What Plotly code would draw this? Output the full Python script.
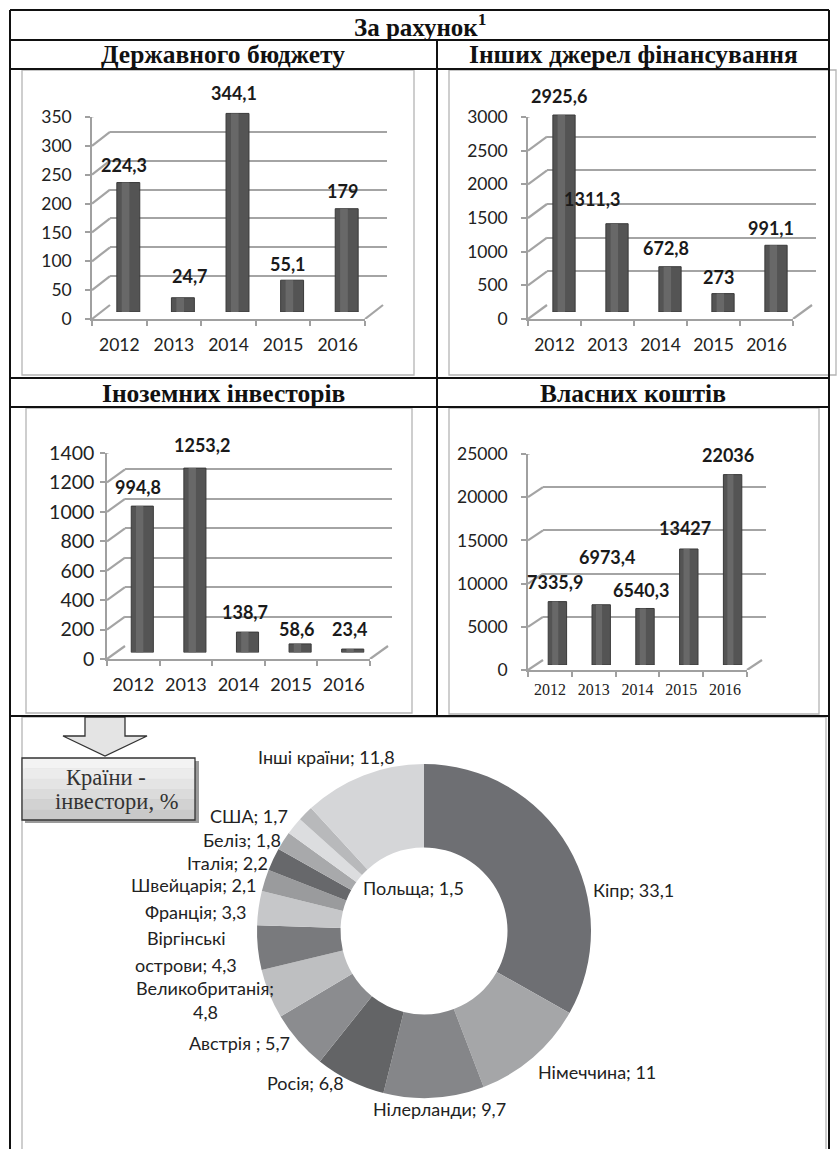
import plotly.graph_objects as go

W, H = 837, 1149

# ---------------- data ----------------
years = ["2012", "2013", "2014", "2015", "2016"]
state_budget = [224.3, 24.7, 344.1, 55.1, 179]
other_sources = [2925.6, 1311.3, 672.8, 273, 991.1]
foreign_investors = [994.8, 1253.2, 138.7, 58.6, 23.4]
own_funds = [7335.9, 6973.4, 6540.3, 13427, 22036]

main_title = "За рахунок<sup>1</sup>"
panel_titles = ["Державного бюджету", "Інших джерел фінансування",
                "Іноземних інвесторів", "Власних коштів"]

countries = ["Кіпр", "Німеччина", "Нілерланди", "Росія", "Австрія ",
             "Великобританія", "Віргінські острови", "Франція", "Швейцарія",
             "Італія", "Беліз", "США", "Польща", "Інші країни"]
shares = [33.1, 11, 9.7, 6.8, 5.7, 4.8, 4.3, 3.3, 2.1, 2.2, 1.8, 1.7, 1.5, 11.8]
callout_lines = ["Країни -", "інвестори, %"]

# ---------------- style ----------------
pie_colors = ["#6e6f73", "#a5a6a8", "#858689", "#636466", "#8b8c8f", "#bebfc1",
              "#797a7d", "#c6c7c9", "#9a9b9d", "#67686b", "#a8a9ab", "#dcdddf",
              "#b8b9bb", "#d5d6d8"]


def px(x):
    return x / W


def py(y):
    return 1 - y / H


def fmt(v):
    return f"{v:g}".replace(".", ",")


SANS = "Lato"
SERIF = "Liberation Serif"
GRID = "#a4a4a4"
AX = "#a0a0a0"

charts = [
    dict(values=state_budget, rmax=350, dtick=50, xf=92, wf=273, yf0=319, hh=202,
         dx=18, dy=-14, ystand=10, xstand=9, ysize=17.5,
         xfont=dict(family=SANS, size=17.5, color="#222"),
         shifts=[(-4, 18), (7, 22), (-4, 20), (-4, 16), (-4, 18)]),
    dict(values=other_sources, rmax=3000, dtick=500, xf=528, wf=265, yf0=319, hh=202,
         dx=19, dy=-14, ystand=10, xstand=9, ysize=17.5,
         xfont=dict(family=SANS, size=17.5, color="#222"),
         shifts=[(-5, 19), (-25, 25), (-4, 19), (-5, 17), (-5, 17)]),
    dict(values=foreign_investors, rmax=1400, dtick=200, xf=107, wf=263, yf0=659, hh=206,
         dx=18, dy=-13, ystand=2, xstand=9, ysize=19.5,
         xfont=dict(family=SANS, size=18, color="#222"),
         shifts=[(-4, 19), (7, 23), (-3, 20), (-3, 15), (-3, 20)]),
    dict(values=own_funds, rmax=25000, dtick=5000, xf=528, wf=219, yf0=670, hh=216,
         dx=15, dy=-10, ystand=10, xstand=4, ysize=17.5,
         xfont=dict(family=SERIF, size=16, color="#222"),
         shifts=[(-2, 20), (6, 48), (-4, 18), (-4, 21), (-5, 20)]),
]

fig = go.Figure()
layout = {}
annotations = []
shapes = []


def axname(n):
    return "" if n == 1 else str(n)


for i, c in enumerate(charts):
    nb, nm, nf = 3 * i + 1, 3 * i + 2, 3 * i + 3
    ticks = list(range(0, c["rmax"] + 1, c["dtick"]))
    # back plane (gridlines)
    xb0 = c["xf"] + c["dx"]
    yb0 = c["yf0"] + c["dy"]
    layout["xaxis" + axname(nb)] = dict(domain=[px(xb0), px(xb0 + c["wf"] + 4)], range=[-0.5, 4.5],
                                        type="category", visible=False, anchor="y" + axname(nb),
                                        fixedrange=True)
    layout["yaxis" + axname(nb)] = dict(domain=[py(yb0), py(yb0 - c["hh"])], range=[0, c["rmax"]],
                                        tickvals=ticks, showgrid=True, gridcolor=GRID, gridwidth=2.2,
                                        showticklabels=False, ticks="", showline=False, zeroline=False,
                                        anchor="x" + axname(nb), fixedrange=True)
    fig.add_trace(go.Bar(x=years, y=c["values"], opacity=0, hoverinfo="skip", showlegend=False,
                         xaxis="x" + axname(nb), yaxis="y" + axname(nb)))
    # middle plane (bars)
    xm0 = c["xf"] + c["dx"] / 2
    ym0 = c["yf0"] + c["dy"] / 2
    layout["xaxis" + axname(nm)] = dict(domain=[px(xm0), px(xm0 + c["wf"])], range=[-0.5, 4.5],
                                        type="category", visible=False, anchor="y" + axname(nm),
                                        fixedrange=True)
    layout["yaxis" + axname(nm)] = dict(domain=[py(ym0), py(ym0 - c["hh"])], range=[0, c["rmax"]],
                                        visible=False, anchor="x" + axname(nm), fixedrange=True)
    fig.add_trace(go.Bar(x=years, y=c["values"], width=0.42,
                         marker=dict(color="#545454", line=dict(color="#3a3a3a", width=1)),
                         hoverinfo="skip", showlegend=False,
                         xaxis="x" + axname(nm), yaxis="y" + axname(nm)))
    fig.add_trace(go.Bar(x=years, y=c["values"], width=0.14, offset=-0.12,
                         marker=dict(color="#686868", line=dict(width=0)),
                         hoverinfo="skip", showlegend=False,
                         xaxis="x" + axname(nm), yaxis="y" + axname(nm)))
    # front plane (axes + labels)
    layout["xaxis" + axname(nf)] = dict(domain=[px(c["xf"]), px(c["xf"] + c["wf"])], range=[-0.5, 4.5],
                                        type="category", showline=True, linecolor=AX, linewidth=1.5,
                                        ticks="outside", tickson="boundaries", ticklen=5, tickcolor=AX,
                                        tickwidth=1.5, tickfont=c["xfont"], ticklabelstandoff=c["xstand"],
                                        showgrid=False, zeroline=False, anchor="y" + axname(nf),
                                        fixedrange=True)
    layout["yaxis" + axname(nf)] = dict(domain=[py(c["yf0"]), py(c["yf0"] - c["hh"])],
                                        range=[0, c["rmax"]], tickvals=ticks, tickformat="d",
                                        showline=True, linecolor=AX, linewidth=1.5,
                                        ticks="outside", ticklen=5, tickcolor=AX, tickwidth=1.5,
                                        tickfont=dict(family=SANS, size=c["ysize"], color="#222"),
                                        ticklabelstandoff=c["ystand"],
                                        showgrid=False, zeroline=False, anchor="x" + axname(nf),
                                        fixedrange=True)
    fig.add_trace(go.Bar(x=years, y=c["values"], opacity=0, hoverinfo="skip", showlegend=False,
                         xaxis="x" + axname(nf), yaxis="y" + axname(nf)))
    # 3D connectors from front ticks to back gridlines
    for t in ticks:
        shapes.append(dict(type="line", xref="paper", x0=px(c["xf"]), x1=px(c["xf"] + c["dx"]),
                           yref="y" + axname(nf), ysizemode="pixel", yanchor=t, y0=0, y1=-c["dy"],
                           line=dict(color=GRID, width=2.2)))
    shapes.append(dict(type="line", xref="paper", x0=px(c["xf"] + c["wf"]),
                       x1=px(c["xf"] + c["wf"] + c["dx"]),
                       yref="y" + axname(nf), ysizemode="pixel", yanchor=0, y0=0, y1=-c["dy"],
                       line=dict(color=GRID, width=2.2)))
    # data labels (anchored on the front axes, shifted to the bar plane)
    for j, (v, (xs, ys)) in enumerate(zip(c["values"], c["shifts"])):
        annotations.append(dict(xref="x" + axname(nf), yref="y" + axname(nf), x=j, y=v,
                                text="<b>" + fmt(v) + "</b>", showarrow=False,
                                xanchor="center", yanchor="middle",
                                xshift=xs + c["dx"] / 2, yshift=ys - c["dy"] / 2,
                                font=dict(family=SANS, size=18, color="#1a1a1a")))

# ---------------- donut ----------------
fig.add_trace(go.Pie(labels=countries, values=shares, hole=0.5, sort=False,
                     direction="clockwise", rotation=0, textinfo="none",
                     marker=dict(colors=pie_colors, line=dict(width=0)),
                     domain=dict(x=[px(257), px(591)], y=[py(1098), py(764)]),
                     hoverinfo="label+value", showlegend=False))

# label placement (style): x, y list, anchor, split
pie_label_style = [
    dict(x=591, y=[890], a="left"),
    dict(x=536, y=[1072], a="left"),
    dict(x=439, y=[1109], a="center"),
    dict(x=346, y=[1083], a="right"),
    dict(x=292, y=[1043], a="right"),
    dict(x=205, y=[988, 1012], a="center", split="; "),
    dict(x=186, y=[938, 965], a="center", split=" "),
    dict(x=248, y=[912], a="right"),
    dict(x=258, y=[885], a="right"),
    dict(x=270, y=[863], a="right"),
    dict(x=283, y=[840], a="right"),
    dict(x=290, y=[816], a="right"),
    dict(x=413, y=[888], a="center"),
    dict(x=397, y=[757], a="right"),
]
for name, v, st in zip(countries, shares, pie_label_style):
    text = f"{name}; {fmt(v)}"
    if st.get("split"):
        k = text.index(st["split"]) + len(st["split"])
        lines = [text[:k].rstrip(), text[k:].strip()]
    else:
        lines = [text]
    for line, yy in zip(lines, st["y"]):
        annotations.append(dict(xref="paper", yref="paper", x=px(st["x"]), y=py(yy), text=line,
                                showarrow=False, xanchor=st["a"], yanchor="middle",
                                font=dict(family=SANS, size=18, color="#222")))

# ---------------- table text ----------------
annotations.append(dict(xref="paper", yref="paper", x=px(420), y=py(25), text="<b>" + main_title + "</b>",
                        showarrow=False, xanchor="center", yanchor="middle",
                        font=dict(family=SERIF, size=25, color="#111")))
for t, (cx, cy) in zip(panel_titles, [(223, 55), (633, 55), (223, 393), (633, 393)]):
    annotations.append(dict(xref="paper", yref="paper", x=px(cx), y=py(cy), text="<b>" + t + "</b>",
                            showarrow=False, xanchor="center", yanchor="middle",
                            font=dict(family=SERIF, size=25.5, color="#111")))

# callout box + arrow
bands = ["#f3f3f3", "#ececec", "#e4e4e4", "#dbdbdb", "#d2d2d2", "#c9c9c9"]
shapes.append(dict(type="rect", xref="paper", yref="paper", x0=px(25), x1=px(199), y0=py(823), y1=py(761),
                   fillcolor="#9a9a9a", line=dict(width=0), layer="above"))
bh = (820 - 758) / len(bands)
for k, col in enumerate(bands):
    shapes.append(dict(type="rect", xref="paper", yref="paper", x0=px(22), x1=px(195),
                       y0=py(758 + k * bh), y1=py(758 + (k + 1) * bh + 0.5),
                       fillcolor=col, line=dict(width=0), layer="above"))
shapes.append(dict(type="rect", xref="paper", yref="paper", x0=px(22), x1=px(195), y0=py(820), y1=py(758),
                   line=dict(color="#333", width=1.3), layer="above"))
arrow_pts = [(85, 717), (125, 717), (125, 736), (147, 736), (105, 756), (63, 736), (85, 736)]
path = "M " + " L ".join(f"{px(x):.5f},{py(y):.5f}" for x, y in arrow_pts) + " Z"
shapes.append(dict(type="path", xref="paper", yref="paper", path=path, fillcolor="#e4e4e4",
                   line=dict(color="#333", width=1.3), layer="above"))
for line, yy, cx in zip(callout_lines, [777, 801], [106, 116]):
    annotations.append(dict(xref="paper", yref="paper", x=px(cx), y=py(yy), text=line, showarrow=False,
                            xanchor="center", yanchor="middle",
                            font=dict(family=SERIF, size=22.5, color="#333")))

# chart frames (gray)
for (x0, y0, x1, y1) in [(22, 70, 414, 375), (449, 70, 836, 375), (26, 408, 412, 713),
                         (449, 408, 819, 714), (22, 717, 826, 1160)]:
    shapes.append(dict(type="rect", xref="paper", yref="paper", x0=px(x0), x1=px(x1), y0=py(y1), y1=py(y0),
                       fillcolor="white", line=dict(color="#b4b4b4", width=1.3), layer="below"))

# table lines (black)
for yy in [10, 40, 69, 378, 407, 716]:
    shapes.append(dict(type="line", xref="paper", yref="paper", x0=px(10), x1=px(829), y0=py(yy), y1=py(yy),
                       line=dict(color="#111", width=2), layer="above"))
for (xx, ya, yb) in [(10, 10, 1149), (829, 10, 1149), (437, 40, 716)]:
    shapes.append(dict(type="line", xref="paper", yref="paper", x0=px(xx), x1=px(xx), y0=py(ya), y1=py(yb),
                       line=dict(color="#111", width=2), layer="above"))

layout.update(dict(width=W, height=H,
                   margin=dict(l=0, r=0, t=0, b=0, pad=0, autoexpand=False),
                   paper_bgcolor="white",
                   plot_bgcolor="rgba(0,0,0,0)", barmode="overlay", showlegend=False,
                   annotations=annotations, shapes=shapes))
fig.update_layout(**layout)
fig.write_html("out.html", config={"displayModeBar": False},
               post_script="document.body.style.margin='0px';")
